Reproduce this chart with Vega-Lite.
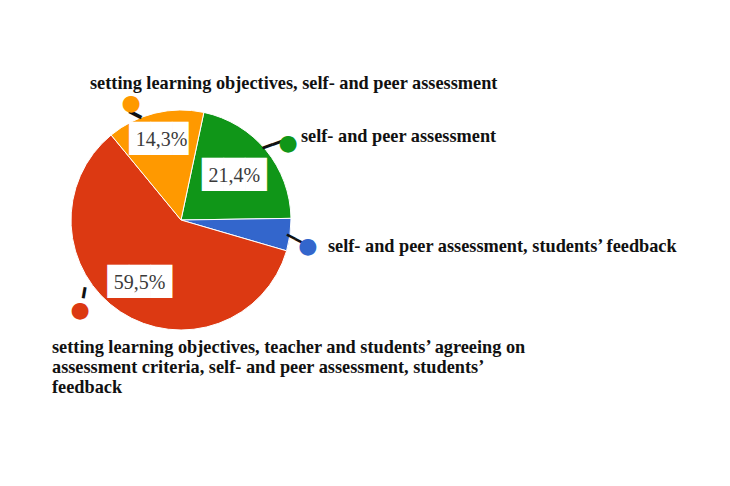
{
  "$schema": "https://vega.github.io/schema/vega-lite/v6.json",
  "autosize": "none",
  "width": 220,
  "height": 220,
  "padding": {"left": 71, "top": 110, "right": 439, "bottom": 156},
  "background": "white",
  "config": {
    "view": {"stroke": null},
    "locale": {"number": {"decimal": ",", "thousands": ".", "grouping": [3], "currency": ["", " €"]}}
  },
  "data": {
    "values": [
      {"answer": "self- and peer assessment", "count": 9},
      {"answer": "self- and peer assessment, students’ feedback", "count": 2},
      {"answer": "setting learning objectives, teacher and students’ agreeing on\nassessment criteria, self- and peer assessment, students’\nfeedback", "count": 25},
      {"answer": "setting learning objectives, self- and peer assessment", "count": 6}
    ]
  },
  "transform": [
    {"window": [{"op": "sum", "field": "count", "as": "cum"}], "frame": [null, 0]},
    {"joinaggregate": [{"op": "sum", "field": "count", "as": "total"}]},
    {"calculate": "datum.cum - datum.count / 2", "as": "mid"},
    {"calculate": "datum.count / datum.total", "as": "share"}
  ],
  "layer": [
    {
      "mark": {"type": "arc", "stroke": "white", "strokeWidth": 1},
      "encoding": {
        "theta": {"field": "count", "type": "quantitative", "stack": true,
          "scale": {"domain": [0, 42], "range": [0.2094, 6.4926]}},
        "order": {"field": "cum", "type": "quantitative"},
        "color": {"field": "answer", "type": "nominal", "legend": null,
          "scale": {
            "domain": [
              "self- and peer assessment",
              "self- and peer assessment, students’ feedback",
              "setting learning objectives, teacher and students’ agreeing on\nassessment criteria, self- and peer assessment, students’\nfeedback",
              "setting learning objectives, self- and peer assessment"
            ],
            "range": ["#109618", "#3366cc", "#dc3912", "#ff9900"]
          }}
      }
    },
    {
      "transform": [{"filter": {"field": "count", "equal": 6}}],
      "mark": {"type": "text", "font": "DejaVu Sans", "fontSize": 28, "color": "white", "align": "center", "baseline": "middle", "radius": 82},
      "encoding": {"theta": {"field": "mid", "type": "quantitative"}, "text": {"value": "██▊"}}
    },
    {
      "transform": [{"filter": {"field": "count", "equal": 9}}],
      "mark": {"type": "text", "font": "DejaVu Sans", "fontSize": 28, "color": "white", "align": "center", "baseline": "middle", "radius": 69},
      "encoding": {"theta": {"field": "mid", "type": "quantitative"}, "text": {"value": "███"}}
    },
    {
      "transform": [{"filter": {"field": "count", "equal": 25}}],
      "mark": {"type": "text", "font": "DejaVu Sans", "fontSize": 28, "color": "white", "align": "center", "baseline": "middle", "radius": 75},
      "encoding": {"theta": {"field": "mid", "type": "quantitative"}, "text": {"value": "███"}}
    },
    {
      "transform": [{"filter": {"field": "count", "equal": 6}}],
      "mark": {"type": "text", "font": "Liberation Serif", "fontSize": 20, "color": "#3a3a3a", "align": "center", "baseline": "middle", "radius": 82},
      "encoding": {"theta": {"field": "mid", "type": "quantitative"}, "text": {"field": "share", "type": "quantitative", "format": ".1%"}}
    },
    {
      "transform": [{"filter": {"field": "count", "equal": 9}}],
      "mark": {"type": "text", "font": "Liberation Serif", "fontSize": 20, "color": "#3a3a3a", "align": "center", "baseline": "middle", "radius": 69},
      "encoding": {"theta": {"field": "mid", "type": "quantitative"}, "text": {"field": "share", "type": "quantitative", "format": ".1%"}}
    },
    {
      "transform": [{"filter": {"field": "count", "equal": 25}}],
      "mark": {"type": "text", "font": "Liberation Serif", "fontSize": 20, "color": "#3a3a3a", "align": "center", "baseline": "middle", "radius": 75},
      "encoding": {"theta": {"field": "mid", "type": "quantitative"}, "text": {"field": "share", "type": "quantitative", "format": ".1%"}}
    },
    {
      "transform": [{"filter": {"field": "count", "equal": 6}}],
      "mark": {"type": "text", "font": "DejaVu Sans Mono", "fontSize": 22, "color": "#111", "align": "center", "baseline": "middle", "radius": 114.6, "thetaOffset": -0.1737, "angle": 27},
      "encoding": {"theta": {"field": "mid", "type": "quantitative"}, "text": {"value": "━"}}
    },
    {
      "transform": [{"filter": {"field": "count", "equal": 9}}],
      "mark": {"type": "text", "font": "DejaVu Sans Mono", "fontSize": 17.5, "color": "#111", "align": "center", "baseline": "middle", "radius": 118.4, "thetaOffset": 0.0075, "angle": -20},
      "encoding": {"theta": {"field": "mid", "type": "quantitative"}, "text": {"value": "━━"}}
    },
    {
      "transform": [{"filter": {"field": "count", "equal": 2}}],
      "mark": {"type": "text", "font": "DejaVu Sans Mono", "fontSize": 15, "color": "#111", "align": "center", "baseline": "middle", "radius": 115.6, "thetaOffset": 0.0305, "angle": 27},
      "encoding": {"theta": {"field": "mid", "type": "quantitative"}, "text": {"value": "━━"}}
    },
    {
      "transform": [{"filter": {"field": "count", "equal": 25}}],
      "mark": {"type": "text", "font": "DejaVu Sans Mono", "fontSize": 18, "color": "#111", "align": "center", "baseline": "middle", "radius": 121.9, "thetaOffset": 0.3503, "angle": 100},
      "encoding": {"theta": {"field": "mid", "type": "quantitative"}, "text": {"value": "━"}}
    },
    {
      "transform": [{"filter": {"field": "count", "equal": 6}}],
      "mark": {"type": "text", "font": "DejaVu Sans", "fontSize": 22, "align": "center", "baseline": "middle", "radius": 127.2, "thetaOffset": -0.1646},
      "encoding": {"theta": {"field": "mid", "type": "quantitative"}, "color": {"field": "answer", "type": "nominal"}, "text": {"value": "●"}}
    },
    {
      "transform": [{"filter": {"field": "count", "equal": 9}}],
      "mark": {"type": "text", "font": "DejaVu Sans", "fontSize": 22, "align": "center", "baseline": "middle", "radius": 131.8, "thetaOffset": 0.0644},
      "encoding": {"theta": {"field": "mid", "type": "quantitative"}, "color": {"field": "answer", "type": "nominal"}, "text": {"value": "●"}}
    },
    {
      "transform": [{"filter": {"field": "count", "equal": 2}}],
      "mark": {"type": "text", "font": "DejaVu Sans", "fontSize": 22, "align": "center", "baseline": "middle", "radius": 129.6, "thetaOffset": 0.0674},
      "encoding": {"theta": {"field": "mid", "type": "quantitative"}, "color": {"field": "answer", "type": "nominal"}, "text": {"value": "●"}}
    },
    {
      "transform": [{"filter": {"field": "count", "equal": 25}}],
      "mark": {"type": "text", "font": "DejaVu Sans", "fontSize": 22, "align": "center", "baseline": "middle", "radius": 135.3, "thetaOffset": 0.2595},
      "encoding": {"theta": {"field": "mid", "type": "quantitative"}, "color": {"field": "answer", "type": "nominal"}, "text": {"value": "●"}}
    },
    {
      "transform": [{"filter": {"field": "count", "equal": 6}}],
      "mark": {"type": "text", "font": "Liberation Serif", "fontWeight": "bold", "fontSize": 18.3, "color": "#111", "align": "left", "baseline": "alphabetic", "radius": 127.2, "thetaOffset": -0.1646, "dx": -41, "dy": -14},
      "encoding": {"theta": {"field": "mid", "type": "quantitative"}, "text": {"field": "answer"}}
    },
    {
      "transform": [{"filter": {"field": "count", "equal": 9}}],
      "mark": {"type": "text", "font": "Liberation Serif", "fontWeight": "bold", "fontSize": 18.3, "color": "#111", "align": "left", "baseline": "alphabetic", "radius": 131.8, "thetaOffset": 0.0644, "dx": 13, "dy": -1},
      "encoding": {"theta": {"field": "mid", "type": "quantitative"}, "text": {"field": "answer"}}
    },
    {
      "transform": [{"filter": {"field": "count", "equal": 2}}],
      "mark": {"type": "text", "font": "Liberation Serif", "fontWeight": "bold", "fontSize": 18.3, "color": "#111", "align": "left", "baseline": "alphabetic", "radius": 129.6, "thetaOffset": 0.0674, "dx": 20, "dy": 6},
      "encoding": {"theta": {"field": "mid", "type": "quantitative"}, "text": {"field": "answer"}}
    },
    {
      "transform": [{"filter": {"field": "count", "equal": 25}}],
      "mark": {"type": "text", "font": "Liberation Serif", "fontWeight": "bold", "fontSize": 18.3, "color": "#111", "align": "left", "baseline": "alphabetic", "lineBreak": "\n", "lineHeight": 20, "radius": 135.3, "thetaOffset": 0.2595, "dx": -28, "dy": 43},
      "encoding": {"theta": {"field": "mid", "type": "quantitative"}, "text": {"field": "answer"}}
    }
  ]
}
